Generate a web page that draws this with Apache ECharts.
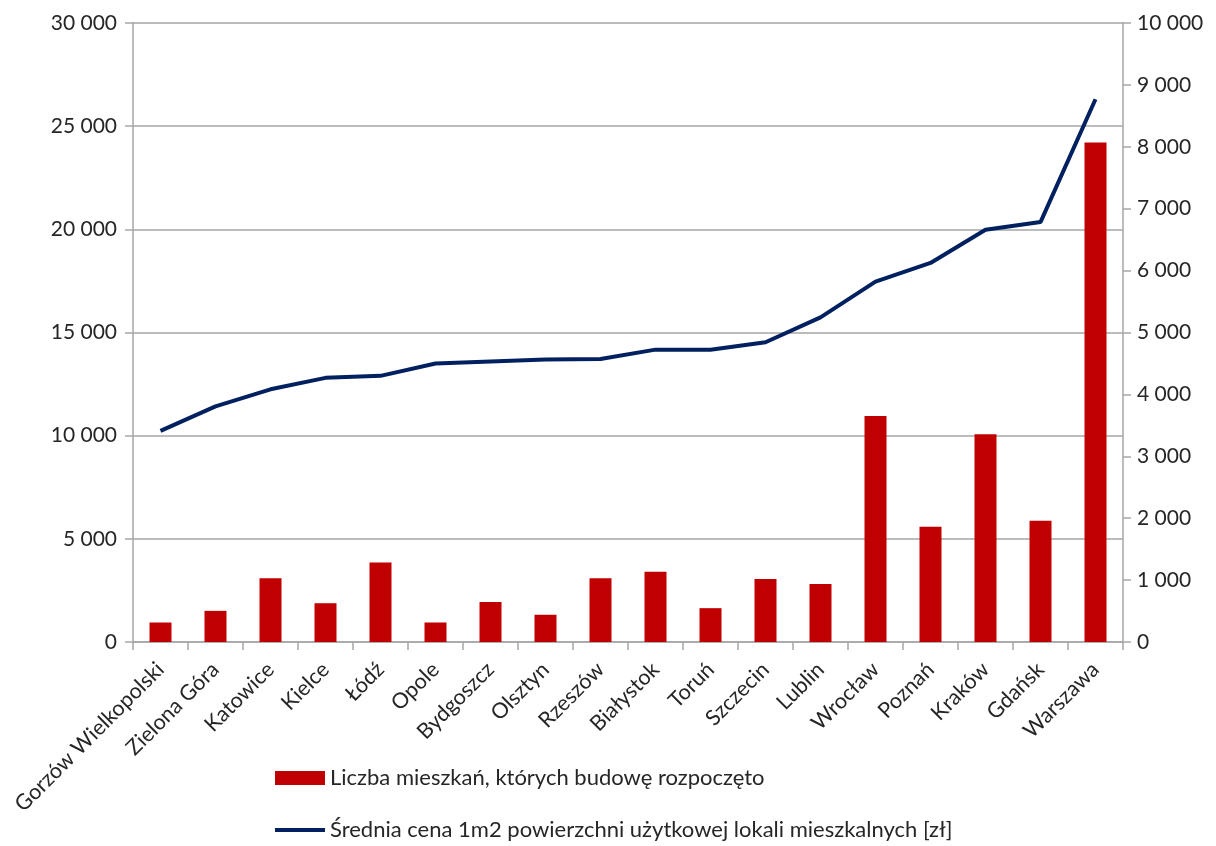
<!DOCTYPE html>
<html lang="pl">
<head>
    <meta charset="UTF-8">
    <script src="https://cdn.jsdelivr.net/npm/echarts@6/dist/echarts.min.js"></script>
    <title>Mieszkania</title>
</head>
<body style="margin:0; background:#fff;">
<div id="container" style="width:1216px; height:846px;"></div>
<script>
    // miasta
    let cities = ['Gorzów Wielkopolski', 'Zielona Góra', 'Katowice', 'Kielce', 'Łódź', 'Opole',
        'Bydgoszcz', 'Olsztyn', 'Rzeszów', 'Białystok', 'Toruń', 'Szczecin', 'Lublin',
        'Wrocław', 'Poznań', 'Kraków', 'Gdańsk', 'Warszawa'];
    // liczba mieszkań (lewa oś)
    let started = [945, 1510, 3090, 1880, 3850, 945, 1940, 1320, 3090, 3410, 1640, 3050, 2810,
        10950, 5590, 10070, 5880, 24210];
    // średnia cena 1m2 (prawa oś)
    let price = [3410, 3806, 4082, 4267, 4300, 4500, 4533, 4565, 4572, 4723, 4723, 4842, 5244,
        5821, 6124, 6659, 6784, 8768];

    let barName = 'Liczba mieszkań, których budowę rozpoczęto';
    let lineName = 'Średnia cena 1m2 powierzchni użytkowej lokali mieszkalnych [zł]';

    let font = 'Lato';
    let textColor = '#262626';
    let axisGrey = '#a6a6a6';

    function fmt(v) {
        return String(v).replace(/\B(?=(\d{3})+(?!\d))/g, ' ');
    }

    // jedna legenda na serię, jedna pod drugą
    function legendAt(top, item) {
        return {
            left: 275,
            top: top,
            padding: 0,
            itemWidth: 50,
            itemHeight: 14,
            textStyle: {fontFamily: font, fontSize: 22, color: textColor},
            data: [item]
        };
    }

    let myChart = echarts.init(document.getElementById('container'));
    let option = {
        animation: false,
        textStyle: {fontFamily: font},
        grid: {left: 133, right: 93, top: 23, bottom: 204},
        legend: [
            legendAt(767, {name: barName, icon: 'rect'}),
            legendAt(819, {name: lineName, icon: 'path://M0,0 L50,0 L50,4 L0,4 Z'})
        ],
        xAxis: {
            type: 'category',
            data: cities,
            axisLine: {lineStyle: {color: axisGrey, width: 1.5}},
            axisTick: {show: true, length: 8, lineStyle: {color: axisGrey, width: 1.5}},
            axisLabel: {
                rotate: 45,
                interval: 0,
                margin: 24,
                fontFamily: font,
                fontSize: 21.5,
                color: textColor
            }
        },
        yAxis: [
            {
                type: 'value',
                min: 0,
                max: 30000,
                interval: 5000,
                axisLine: {show: true, lineStyle: {color: axisGrey, width: 1.5}},
                axisTick: {show: true, length: 8, lineStyle: {color: axisGrey, width: 1.5}},
                splitLine: {lineStyle: {color: axisGrey, width: 1.5}},
                axisLabel: {formatter: fmt, fontFamily: font, fontSize: 21, color: textColor, margin: 16}
            },
            {
                type: 'value',
                min: 0,
                max: 10000,
                interval: 1000,
                position: 'right',
                axisLine: {show: true, lineStyle: {color: axisGrey, width: 1.5}},
                axisTick: {show: true, length: 8, lineStyle: {color: axisGrey, width: 1.5}},
                splitLine: {show: false},
                axisLabel: {formatter: fmt, fontFamily: font, fontSize: 21, color: textColor, margin: 14}
            }
        ],
        series: [
            {
                name: barName,
                type: 'bar',
                yAxisIndex: 0,
                data: started,
                barWidth: 22,
                itemStyle: {color: '#c00000'}
            },
            {
                name: lineName,
                type: 'line',
                yAxisIndex: 1,
                data: price,
                symbol: 'none',
                lineStyle: {color: '#002060', width: 4},
                itemStyle: {color: '#002060'}
            }
        ]
    };
    myChart.setOption(option);
</script>
</body>
</html>
